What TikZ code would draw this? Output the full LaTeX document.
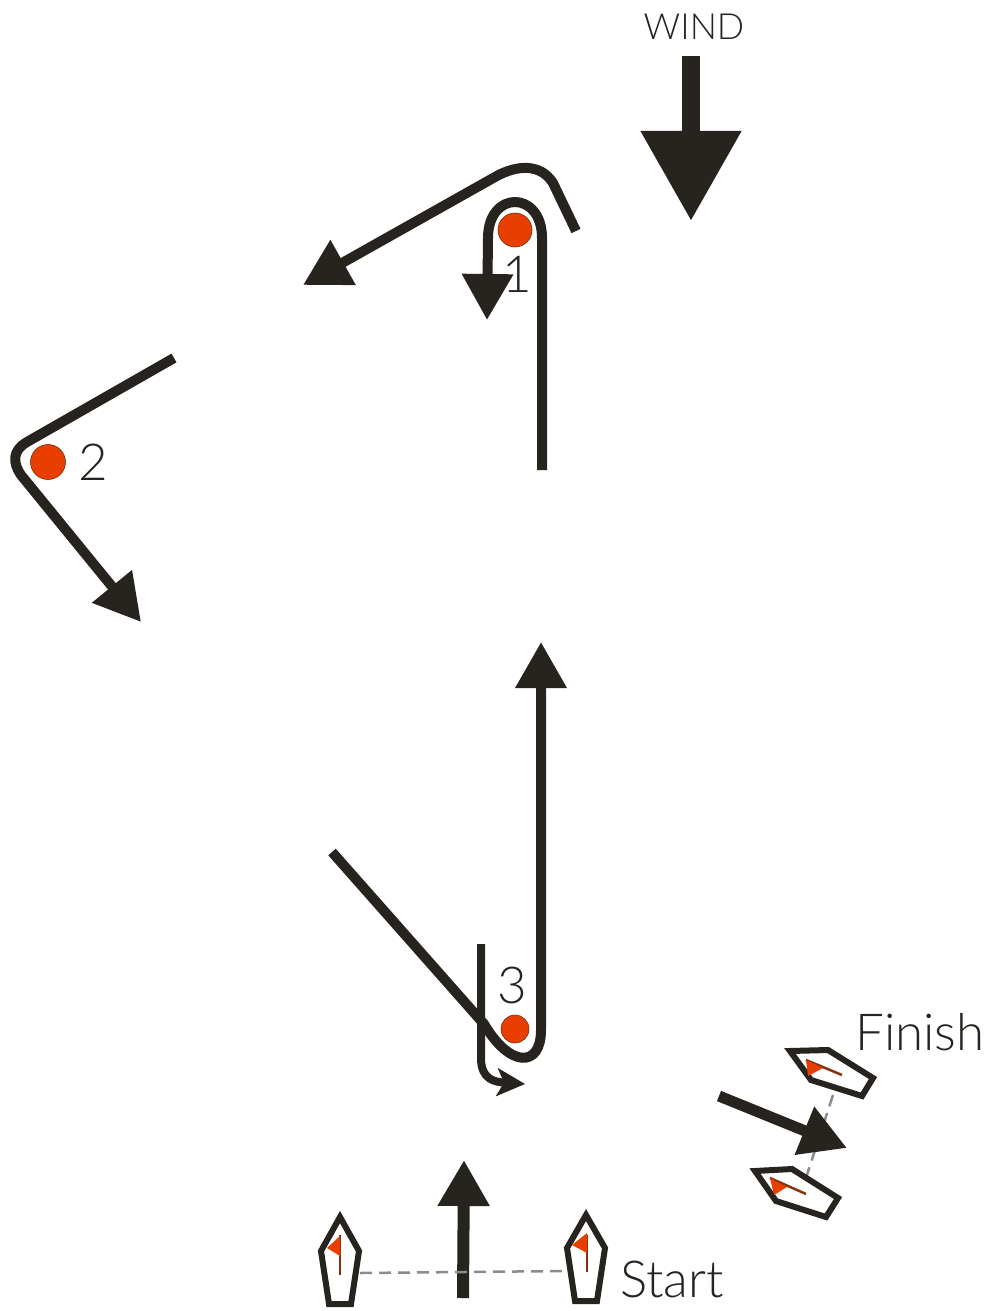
\documentclass[tikz,border=0pt]{standalone}
\usepackage{fontspec}
\setmainfont{Lato Light}
\usetikzlibrary{arrows.meta}
\definecolor{ink}{HTML}{27231F}
\definecolor{markred}{HTML}{E83F00}
\definecolor{dashgray}{HTML}{8C8C8C}
\tikzset{
  x=1bp,y=-1bp,
  course/.style={draw=ink,line width=10bp,line join=round},
  bighead/.style={-{Triangle[length=46bp,width=49bp,color=ink]}},
  windhead/.style={-{Triangle[length=90bp,width=96bp,color=ink]}},
  smallhead/.style={-{Stealth[length=28bp,width=28bp,inset=7bp,color=ink]}},
  buoy/.style={circle,fill=markred,draw=ink!60!markred,line width=.6bp,inner sep=0pt},
  hull/.style={draw=ink,line width=6bp,fill=white,line join=miter},
  flagm/.style={fill=markred,draw=none},
  mast/.style={draw=ink!50!markred,line width=2.5bp},
  startline/.style={draw=dashgray,line width=2.5bp,dash pattern=on 12bp off 7bp},
  lab/.style={text=ink,inner sep=0pt,font=\fontsize{51bp}{51bp}\selectfont},
  smalllab/.style={text=ink,inner sep=0pt,font=\fontsize{36bp}{36bp}\selectfont},
}
\begin{document}
\begin{tikzpicture}
\useasboundingbox (0,0) rectangle (989,1311);
\fill[white] (0,0) rectangle (989,1311);

% labels
\node[smalllab] (wind) at (694,27) {WIND};
\node[lab] (one) at (517,274) {1};
\node[lab] (two) at (93,462) {2};
\node[lab] (three) at (512,985) {3};
\node[lab] (finish) at (920,1032) {Finish};
\node[lab] (start) at (672,1279) {Start};

% wind
\coordinate (wa) at (691,56); \coordinate (wb) at (691,221);
\draw[draw=ink,line width=18bp,windhead] (wa) -- (wb);

% buoys
\node[buoy,minimum size=34bp] (m1) at (515,230) {};
\node[buoy,minimum size=35bp] (m2) at (48,462) {};
\node[buoy,minimum size=28bp] (m3) at (515,1029) {};

% course
\coordinate (a1) at (542,470); \coordinate (a2) at (487,320);
\draw[course,bighead] (a1) -- (542,238) .. controls (542,190) and (488,190) .. (488,238) -- (a2);

\coordinate (b1) at (576,231); \coordinate (b2) at (303,285);
\draw[course,bighead] (b1) -- (553,183) .. controls (541,164) and (518,164) .. (495,177) -- (b2);

\coordinate (c1) at (174,358); \coordinate (c2) at (141,622);
\draw[course,bighead] (c1) -- (27,442) .. controls (13,450) and (12,462) .. (21,475) -- (c2);

\coordinate (d1) at (332,852); \coordinate (d2) at (541,642);
\draw[course,bighead] (d1) -- (484,1024) .. controls (510,1068) and (541,1068) .. (541,1030) -- (d2);

\coordinate (e1) at (481,944); \coordinate (e2) at (525,1084);
\draw[draw=ink,line width=8bp,smallhead] (e1) -- (481,1058) .. controls (481,1080) and (495,1082) .. (e2);

% finish boats and dashed line
\coordinate (fa) at (833,1095); \coordinate (fb) at (803,1187);
\draw[startline] (fa) -- (fb);
\draw[hull] (790,1051) -- (828,1050) -- (873,1078) -- (862,1096) -- (811,1080) -- cycle;
\draw[mast] (806,1060) -- (842,1075);
\fill[flagm] (806,1060) -- (808,1076) -- (823,1068) -- cycle;
\draw[hull] (755,1171) -- (792,1169) -- (838,1198) -- (826,1217) -- (776,1201) -- cycle;
\draw[mast] (770,1178) -- (806,1194);
\fill[flagm] (770,1178) -- (774,1195) -- (787,1187) -- cycle;
\coordinate (fi1) at (719,1096); \coordinate (fi2) at (847,1148);
\draw[draw=ink,line width=11bp,bighead] (fi1) -- (fi2);

% start boats
\coordinate (sa) at (360,1273); \coordinate (sb) at (567,1271);
\coordinate (st1) at (463,1298); \coordinate (st2) at (464,1160);
\draw[draw=ink,line width=12bp,bighead] (st1) -- (st2);
\draw[startline] (sa) -- (sb);
\draw[hull] (340,1217) -- (359,1251) -- (351,1304) -- (329,1304) -- (321,1251) -- cycle;
\draw[mast] (340,1235) -- (340,1275);
\fill[flagm] (340,1236) -- (327,1248) -- (340,1256) -- cycle;
\draw[hull] (586,1215) -- (605,1248) -- (597,1301) -- (575,1301) -- (567,1248) -- cycle;
\draw[mast] (587,1235) -- (587,1272);
\fill[flagm] (587,1233) -- (572,1245) -- (587,1253) -- cycle;
\end{tikzpicture}
\end{document}
